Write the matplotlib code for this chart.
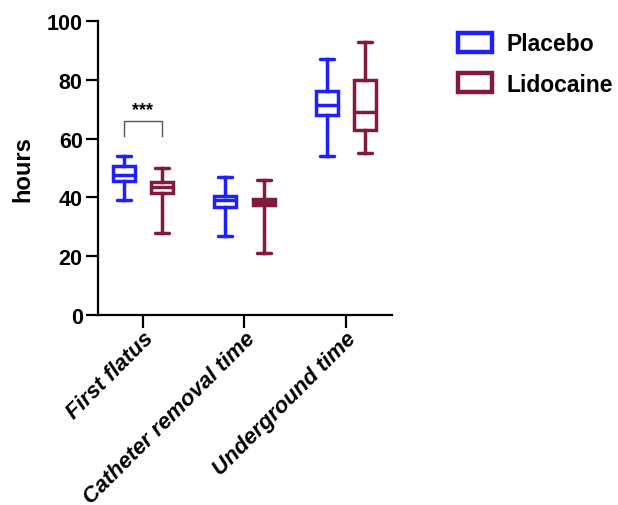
import matplotlib
matplotlib.use("Agg")
import matplotlib.pyplot as plt
from matplotlib.patches import Patch

plt.rcParams['font.family'] = ['Liberation Sans', 'DejaVu Sans']
plt.rcParams['font.weight'] = 'bold'

categories = ["First flatus", "Catheter removal time", "Underground time"]
groups = ["Placebo", "Lidocaine"]
colors = {"Placebo": "#1F1FFF", "Lidocaine": "#84193F"}

# five-number summaries: min, q1, median, q3, max
placebo_min = [39, 27, 54]
placebo_q1 = [45.5, 36.6, 68]
placebo_med = [47.5, 39.0, 71.5]
placebo_q3 = [50.6, 40.6, 76.3]
placebo_max = [54, 47, 87]

lido_min = [28, 21, 55]
lido_q1 = [41.6, 37.3, 63]
lido_med = [43.6, 38.5, 69]
lido_q3 = [45.2, 39.5, 80]
lido_max = [50, 46, 93]

yticks = [0, 20, 40, 60, 80, 100]

fig = plt.figure(figsize=(6.18, 5.06), dpi=100)
ax = fig.add_axes([98/618, 1-316/506, (392-98)/618, (316-22)/506])

offset = 0.19
data = {
    "Placebo": (placebo_min, placebo_q1, placebo_med, placebo_q3, placebo_max),
    "Lidocaine": (lido_min, lido_q1, lido_med, lido_q3, lido_max),
}
lw = 2.5
for gi, g in enumerate(groups):
    mn, q1, md, q3, mx = data[g]
    stats = []
    for i in range(len(categories)):
        stats.append(dict(whislo=mn[i], q1=q1[i], med=md[i], q3=q3[i], whishi=mx[i], fliers=[]))
    pos = [i + (-offset if gi == 0 else offset) for i in range(len(categories))]
    c = colors[g]
    ax.bxp(stats, positions=pos, widths=0.22, patch_artist=True, showfliers=False,
           capwidths=0.14,
           boxprops=dict(facecolor='white', edgecolor=c, linewidth=lw),
           medianprops=dict(color=c, linewidth=lw),
           whiskerprops=dict(color=c, linewidth=lw),
           capprops=dict(color=c, linewidth=lw, solid_capstyle='round'),
           manage_ticks=False, zorder=3)

ax.set_xlim(-0.443, 2.453)
ax.set_ylim(0, 100)
ax.set_yticks(yticks)
ax.set_xticks(range(len(categories)))
ax.set_xticklabels(categories, rotation=45, ha='right', va='top',
                   rotation_mode='anchor', fontstyle='italic', fontweight='bold', fontsize=16)
for lab in ax.get_yticklabels():
    lab.set_fontsize(15.5)
    lab.set_fontweight('bold')
ax.tick_params(axis='both', width=1.6, length=9, pad=2)
ax.tick_params(axis='x', pad=0)
ax.set_ylabel("hours", fontsize=17, fontweight='bold', labelpad=9)
for s in ['top', 'right']:
    ax.spines[s].set_visible(False)
for s in ['left', 'bottom']:
    ax.spines[s].set_linewidth(1.6)

# significance bracket
ax.plot([-offset, -offset, offset, offset], [61, 66, 66, 61], color='#555555', lw=1.0)
ax.text(0, 67, "***", ha='center', va='bottom', fontsize=13, fontweight='bold')

handles = [Patch(facecolor='white', edgecolor=colors[g], linewidth=3.2, label=g) for g in groups]
fig.legend(handles=handles, loc='upper left', bbox_to_anchor=(447/618, 1-22/506),
           frameon=False, fontsize=16.5, handlelength=1.45, handleheight=0.9,
           handletextpad=0.65, labelspacing=0.75, borderpad=0)

fig.savefig("out.png", dpi=100)
